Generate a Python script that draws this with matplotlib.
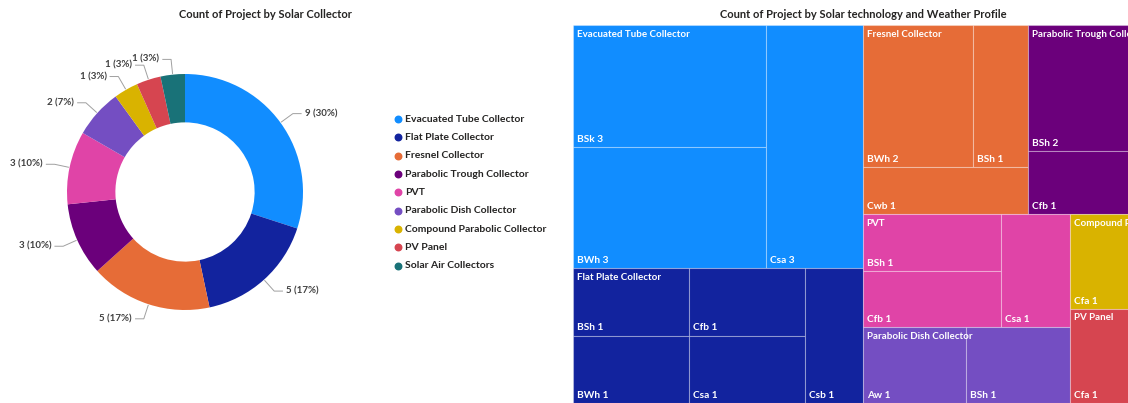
import numpy as np
import matplotlib.pyplot as plt
from matplotlib.patches import Rectangle

plt.rcParams['font.family'] = ['Lato', 'DejaVu Sans']

# donut data
collectors = ['Evacuated Tube Collector', 'Flat Plate Collector', 'Fresnel Collector',
              'Parabolic Trough Collector', 'PVT', 'Parabolic Dish Collector',
              'Compound Parabolic Collector', 'PV Panel', 'Solar Air Collectors']
project_counts = [9, 5, 5, 3, 3, 2, 1, 1, 1]
colors = ['#118DFF', '#12239E', '#E66C37', '#6B007B', '#E044A7',
          '#744EC2', '#D9B300', '#D64550', '#197278']

# treemap data (weather profile per collector)
tm_profiles = [['BSk', 'BWh', 'Csa'],
               ['BSh', 'BWh', 'Cfb', 'Csa', 'Csb'],
               ['BWh', 'BSh', 'Cwb'],
               ['BSh', 'Cfb'],
               ['BSh', 'Cfb', 'Csa'],
               ['Aw', 'BSh'],
               ['Cfa'],
               ['Cfa'],
               ['Cfa']]
tm_counts = [[3, 3, 3], [1, 1, 1, 1, 1], [2, 1, 1], [2, 1], [1, 1, 1],
             [1, 1], [1], [1], [1]]

# how the cells are nested (alternating horizontal / vertical splits)
group_layout = [[0, 1], [[2, 3], [[4, 5], [6, 7]]], [8]]
leaf_layouts = [[[0, 1], 2], [[0, 1], [2, 3], 4], [[[0, 1], 2]], [[0, 1]],
                [[0, 1], 2], [0, 1], [0], [0], [0]]

W, H = 1128, 403
TXT = '#252423'
fig = plt.figure(figsize=(W / 100, H / 100), dpi=100)


def node_size(node, vals):
    if isinstance(node, int):
        return vals[node]
    return sum(node_size(n, vals) for n in node)


def split(node, vals, box, horizontal, out):
    if isinstance(node, int):
        out.append((node, box))
        return
    x0, y0, x1, y1 = box
    total = node_size(node, vals)
    pos = x0 if horizontal else y0
    for child in node:
        frac = node_size(child, vals) / total
        if horizontal:
            b = (pos, y0, pos + frac * (x1 - x0), y1)
            pos = b[2]
        else:
            b = (x0, pos, x1, pos + frac * (y1 - y0))
            pos = b[3]
        split(child, vals, b, not horizontal, out)


# ---------------- donut ----------------
cx, cy, r = 185, 192, 118
ax = fig.add_axes([0, 0, 560 / W, 1])
wedges, _ = ax.pie(project_counts, colors=colors, startangle=90, counterclock=False,
                   radius=1, wedgeprops=dict(width=0.41, linewidth=0))
ax.set_xlim(-cx / r, (560 - cx) / r)
ax.set_ylim(-(H - cy) / r, cy / r)
ax.axis('off')

total = sum(project_counts)
for w, n in zip(wedges, project_counts):
    ang = np.deg2rad((w.theta1 + w.theta2) / 2)
    c, s = np.cos(ang), np.sin(ang)
    side = 1 if c >= 0 else -1
    x1, y1 = 1.13 * c, 1.13 * s
    ax.plot([1.01 * c, x1, x1 + 0.07 * side], [1.01 * s, y1, y1], color='#a0a0a0', lw=0.7)
    ax.text(x1 + 0.1 * side, y1, f'{n} ({n / total:.0%})', ha='left' if side > 0 else 'right',
            va='center', fontsize=7, fontweight='bold', color='#404040')

# legend
for i, (name, col) in enumerate(zip(collectors, colors)):
    py = 119 + i * 18.35
    ax.scatter((398 - cx) / r, (cy - py) / r, s=22, color=col, clip_on=False)
    ax.text((405 - cx) / r, (cy - py) / r, name, va='center', ha='left',
            fontsize=7.5, fontweight='bold', color=TXT)

fig.text(265 / W, 1 - 15 / H, 'Count of Project by Solar Collector', ha='center', va='center',
         fontsize=8, fontweight='bold', color=TXT)

# ---------------- treemap ----------------
tm = fig.add_axes([573 / W, 0, 600 / W, 378 / H])
tm.set_xlim(0, 1)
tm.set_ylim(1, 0)
tm.axis('off')

groups = []
split(group_layout, [sum(c) for c in tm_counts], (0, 0, 1, 1), True, groups)
for gi, (gx0, gy0, gx1, gy1) in groups:
    leaves = []
    split(leaf_layouts[gi], tm_counts[gi], (gx0, gy0, gx1, gy1), True, leaves)
    for li, (x0, y0, x1, y1) in leaves:
        tm.add_patch(Rectangle((x0, y0), x1 - x0, y1 - y0, facecolor=colors[gi],
                               edgecolor=(1, 1, 1, 0.3), lw=0.8))
        tm.annotate(f'{tm_profiles[gi][li]} {tm_counts[gi][li]}', xy=(x0, y1), xytext=(4, 3),
                    textcoords='offset pixels', ha='left', va='bottom', fontsize=7.3,
                    fontweight='bold', color='white')
    tm.annotate(collectors[gi], xy=(gx0, gy0), xytext=(4, -5), textcoords='offset pixels',
                ha='left', va='top', fontsize=7, fontweight='bold', color='white')

fig.text(863 / W, 1 - 15 / H, 'Count of Project by Solar technology and Weather Profile',
         ha='center', va='center', fontsize=8, fontweight='bold', color=TXT)

fig.savefig('out.png', dpi=100)
